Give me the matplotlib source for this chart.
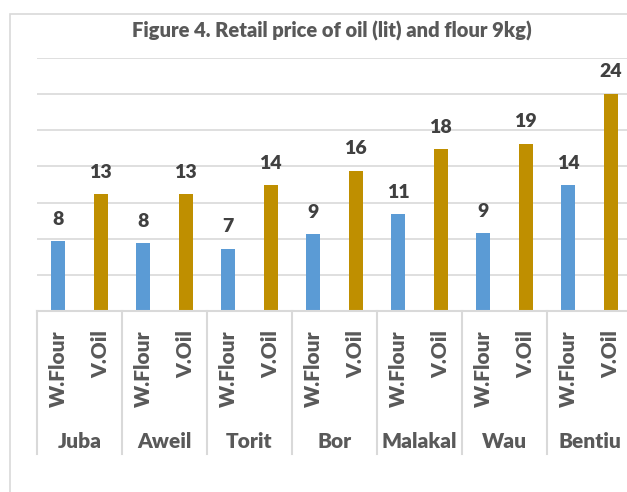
import matplotlib.pyplot as plt
from matplotlib.patches import Rectangle

# ---------------------------------------------------
# Data
# ---------------------------------------------------
towns = ["Juba", "Aweil", "Torit", "Bor", "Malakal", "Wau", "Bentiu"]
items = ["W.Flour", "V.Oil"]
flour = [7.7, 7.5, 6.9, 8.5, 10.7, 8.6, 13.9]
oil = [12.9, 12.9, 13.9, 15.5, 17.9, 18.5, 24.0]

TITLE = "Figure 4. Retail price of oil (lit) and flour 9kg)"
FONT = ["Lato", "DejaVu Sans"]
WEIGHT = "heavy"
BLUE = "#5B9BD5"
GOLD = "#BF8F00"
GRID = "#D9D9D9"
TXT = "#595959"
LBL = "#404040"

plt.rcParams["font.family"] = FONT

W, H = 627, 492
fig = plt.figure(figsize=(W / 100, H / 100), dpi=100)

# outer chart border
fig.patches.append(Rectangle((10 / W, -0.1), 1.2, (H - 14) / H + 0.1,
                             transform=fig.transFigure, fill=False,
                             edgecolor=GRID, linewidth=1.2))

ax_left, ax_right = 37, 632
ax_top, ax_bot = 58, 311
ax = fig.add_axes([ax_left / W, (H - ax_bot) / H,
                   (ax_right - ax_left) / W, (ax_bot - ax_top) / H])

n = len(towns)
ax.set_xlim(0, 2 * n)
ax.set_ylim(0, 28)
ax.set_yticks(range(0, 29, 4))
ax.yaxis.grid(True, color=GRID, linewidth=1.2)
ax.set_axisbelow(True)
for s in ax.spines.values():
    s.set_visible(False)
ax.tick_params(left=False, bottom=False, labelleft=False, labelbottom=False)

bw = 0.32
fx = [2 * i + 0.5 for i in range(n)]
ox = [2 * i + 1.5 for i in range(n)]
ax.bar(fx, flour, width=bw, color=BLUE, zorder=3)
ax.bar(ox, oil, width=bw, color=GOLD, zorder=3)

for x, v in list(zip(fx, flour)) + list(zip(ox, oil)):
    ax.annotate(str(int(v + 0.5)), (x, v), xytext=(0, 12),
                textcoords="offset points", ha="center", va="baseline",
                fontsize=14, fontweight=WEIGHT, color=LBL)

# category axis: baseline, group separators, labels
px = 72 / 100  # points per pixel
sep_len = (454 - ax_bot) / (ax_bot - ax_top)
tr = ax.get_xaxis_transform()
ax.plot([0, 2 * n], [0, 0], transform=tr, color=GRID, linewidth=1.5,
        clip_on=False, zorder=4)
for i in range(n + 1):
    ax.plot([2 * i, 2 * i], [0, -sep_len], transform=tr, color=GRID,
            linewidth=1.5, clip_on=False)

for i, town in enumerate(towns):
    for j, item in enumerate(items):
        ax.annotate(item, (2 * i + j + 0.5, 0), xycoords=tr,
                    xytext=(0, -19 * px), textcoords="offset points",
                    rotation=90, ha="center", va="top",
                    fontsize=15, fontweight=WEIGHT, color=TXT)
    ax.annotate(town, (2 * i + 1, 0), xycoords=tr,
                xytext=(0, -130 * px), textcoords="offset points",
                ha="center", va="center",
                fontsize=15, fontweight=WEIGHT, color=TXT)

fig.text(332 / W, 1 - 31 / H, TITLE, ha="center", va="center",
         fontsize=14.5, fontweight=WEIGHT, color=TXT)

fig.savefig("out.png", dpi=100)
